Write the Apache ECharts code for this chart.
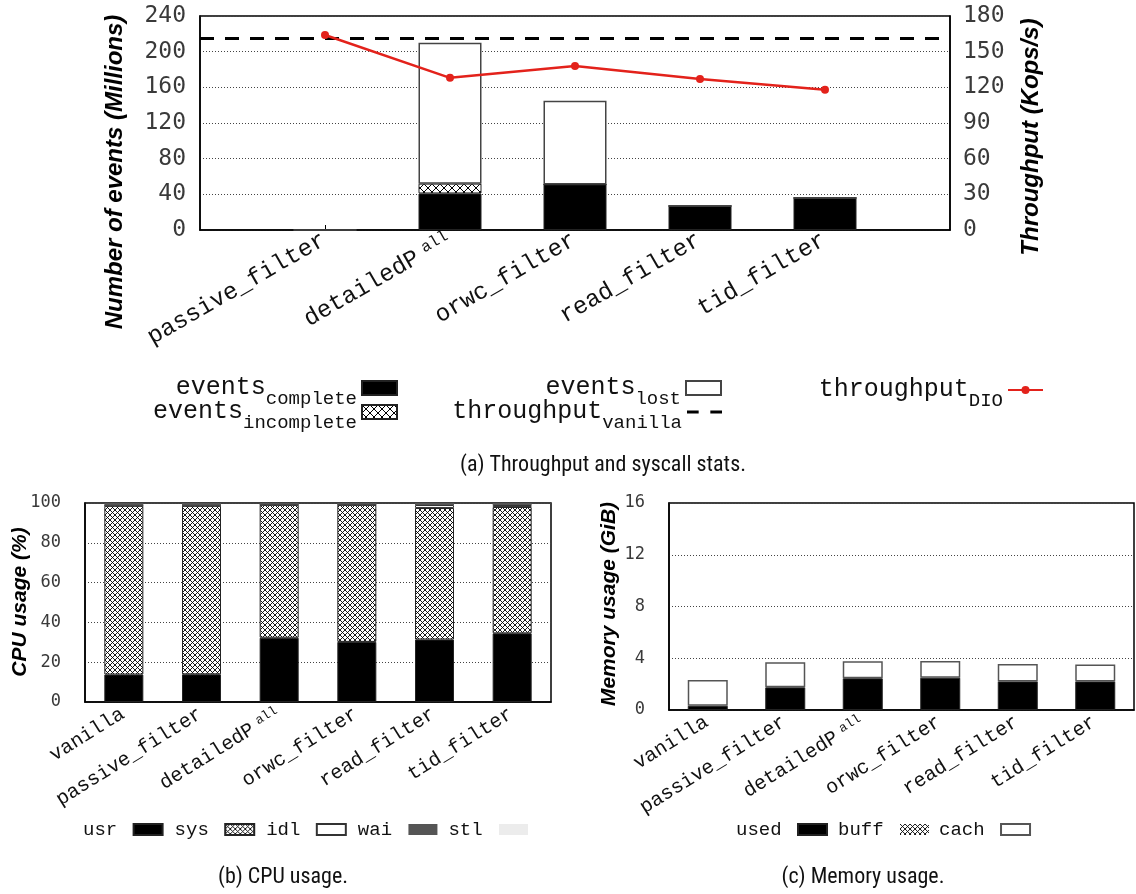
<!DOCTYPE html>
<html>
<head>
<meta charset="utf-8">
<script src="https://cdn.jsdelivr.net/npm/echarts@6/dist/echarts.min.js"></script>
<style>
  html, body { margin: 0; padding: 0; background: #fff; }
  #chart { width: 1136px; height: 894px; }
</style>
</head>
<body>
<div id="chart"></div>
<script>
// (a) Throughput and syscall stats
const tracerCategories = ['passive_filter', 'detailedP_all', 'orwc_filter', 'read_filter', 'tid_filter'];
const eventsComplete   = [0, 41, 51, 27, 36];     // millions
const eventsIncomplete = [0, 11, 0, 0, 0];        // millions
const eventsLost       = [0, 158, 94, 0, 0];      // millions
const throughputDIO    = [164, 128, 138, 127, 118]; // Kops/s
const throughputVanilla = 161.5;                  // Kops/s
const eventTicks = [0, 40, 80, 120, 160, 200, 240];
const throughputTicks = [0, 30, 60, 90, 120, 150, 180];

// (b) CPU usage and (c) memory usage
const setupCategories = ['vanilla', 'passive_filter', 'detailedP_all', 'orwc_filter', 'read_filter', 'tid_filter'];
const cpuUsr = [13.8, 13.9, 32.3, 30.2, 31.4, 34.5];
const cpuSys = [84.8, 84.7, 66.8, 68.9, 66.1, 63.5];
const cpuIdl = [0.1, 0.1, 0.1, 0.1, 1.5, 1.0];
const cpuWai = [1.3, 1.3, 0.8, 0.8, 1.0, 1.0];
const cpuStl = [0, 0, 0, 0, 0, 0];
const cpuTicks = [0, 20, 40, 60, 80, 100];
const memUsed = [0.33, 1.75, 2.45, 2.5, 2.21, 2.21];
const memBuff = [0, 0, 0, 0, 0, 0];
const memCach = [1.98, 1.95, 1.31, 1.28, 1.34, 1.31];
const memTicks = [0, 4, 8, 12, 16];

const MONO = '"Liberation Mono", "DejaVu Sans Mono", monospace';
const NUM = '"DejaVu Sans Mono", monospace';
const SANS = '"Liberation Sans", Arial, sans-serif';
const CAPTION = '"Liberation Sans Narrow", "Roboto Condensed", Roboto, sans-serif';

// Cross-hatch fill used for the "incomplete"/"sys"/"buff" segments
function hatch(step, lw) {
  const c = document.createElement('canvas');
  c.width = step; c.height = step;
  const g = c.getContext('2d');
  g.fillStyle = '#fff';
  g.fillRect(0, 0, step, step);
  g.strokeStyle = '#000';
  g.lineWidth = lw;
  g.beginPath();
  g.moveTo(-1, -1); g.lineTo(step + 1, step + 1);
  g.moveTo(step + 1, -1); g.lineTo(-1, step + 1);
  g.stroke();
  return { image: c, repeat: 'repeat' };
}

// Category label, with the "all" of detailedP_all set small and raised
function catLabel(v) {
  if (v === 'detailedP_all') return '{m|detailedP}{s|all}';
  return '{m|' + v + '}';
}
function catRich(size) {
  return {
    m: { fontFamily: MONO, fontSize: size, color: '#111', lineHeight: size + 4, verticalAlign: 'top' },
    s: { fontFamily: MONO, fontSize: Math.round(size * 0.65), color: '#111', lineHeight: Math.round(size * 0.6), verticalAlign: 'top', padding: [0, 0, 0, Math.round(size * 0.3)] }
  };
}

// Legend text "base_sub" drawn with a subscript
function subLabel(name) {
  const i = name.indexOf('_');
  if (i < 0) return '{m|' + name + '}';
  return '{m|' + name.slice(0, i) + '}{s|' + name.slice(i + 1) + '}';
}
const legendRich = {
  m: { fontFamily: MONO, fontSize: 25, color: '#111', lineHeight: 26, verticalAlign: 'top' },
  s: { fontFamily: MONO, fontSize: 19, color: '#111', lineHeight: 18, verticalAlign: 'top', padding: [14, 0, 0, 0] }
};

const padded = arr => [null, ...arr, null];
const topAxisData = ['', ...tracerCategories, ''];

const hatchBig = hatch(8, 1);
const hatchSmall = hatch(5, 0.9);

const gridLine = { show: true, lineStyle: { color: '#444', type: [1, 2], width: 1 } };
const frame = { show: true, borderColor: '#000', borderWidth: 1.5, backgroundColor: 'transparent' };
const axisBlack = { show: true, lineStyle: { color: '#000', width: 1.5 } };
const VANILLA_DASH = [14, 11];

function topLegend(item, right, top, extra) {
  return Object.assign({
    data: [item],
    right: right, top: top,
    orient: 'horizontal',
    align: 'right',
    padding: 0,
    selectedMode: false,
    itemWidth: 35, itemHeight: 14,
    formatter: subLabel,
    textStyle: { fontFamily: MONO, fontSize: 25, color: '#111', rich: legendRich }
  }, extra || {});
}

function bottomLegend(names, left, gap) {
  return {
    data: names.map(n => ({ name: n, icon: 'rect' })),
    left: left, top: 820, align: 'right', padding: 0, selectedMode: false,
    itemWidth: 29, itemHeight: 11, itemGap: gap,
    formatter: n => n + ' ',
    textStyle: { fontFamily: MONO, fontSize: 19, color: '#111' }
  };
}

function caption(text, x, y) {
  return { type: 'text', x: x, y: y,
    style: { text: text, font: '22px ' + CAPTION, fill: '#111', textAlign: 'center', textVerticalAlign: 'middle', align: 'center', verticalAlign: 'middle' } };
}
function axisTitle(text, x, y, size) {
  return { type: 'text', x: x, y: y, rotation: Math.PI / 2,
    style: { text: text, font: 'italic bold ' + size + 'px ' + SANS, fill: '#000', textAlign: 'center', textVerticalAlign: 'middle', align: 'center', verticalAlign: 'middle' } };
}

const option = {
  animation: false,
  backgroundColor: '#fff',
  grid: [
    Object.assign({ left: 200, top: 16, width: 750, height: 214 }, frame),
    Object.assign({ left: 85, top: 503, width: 466, height: 199 }, frame),
    Object.assign({ left: 669, top: 503, width: 465, height: 207 }, frame)
  ],
  xAxis: [
    {
      type: 'category', gridIndex: 0, data: topAxisData, boundaryGap: false,
      axisLine: axisBlack,
      axisTick: { show: true, inside: true, length: 5, interval: (i, v) => v !== '', lineStyle: { color: '#000' } },
      axisLabel: { interval: 0, rotate: 30, margin: 10, formatter: catLabel, rich: catRich(24) },
      splitLine: { show: false }
    },
    {
      type: 'category', gridIndex: 1, data: setupCategories,
      axisLine: axisBlack, axisTick: { show: false },
      axisLabel: { interval: 0, rotate: 32, margin: 12, formatter: catLabel, rich: catRich(20) }
    },
    {
      type: 'category', gridIndex: 2, data: setupCategories,
      axisLine: axisBlack, axisTick: { show: false },
      axisLabel: { interval: 0, rotate: 32, margin: 12, formatter: catLabel, rich: catRich(20) }
    }
  ],
  yAxis: [
    {
      type: 'value', gridIndex: 0,
      min: eventTicks[0], max: eventTicks[eventTicks.length - 1], interval: eventTicks[1] - eventTicks[0],
      axisLine: axisBlack, axisTick: { show: false },
      axisLabel: { fontFamily: NUM, fontSize: 23, color: '#3a3a3a', margin: 14 },
      splitLine: gridLine
    },
    {
      type: 'value', gridIndex: 0, position: 'right',
      min: throughputTicks[0], max: throughputTicks[throughputTicks.length - 1], interval: throughputTicks[1] - throughputTicks[0],
      axisLine: axisBlack, axisTick: { show: false },
      axisLabel: { fontFamily: NUM, fontSize: 23, color: '#3a3a3a', margin: 13 },
      splitLine: { show: false }
    },
    {
      type: 'value', gridIndex: 1,
      min: cpuTicks[0], max: cpuTicks[cpuTicks.length - 1], interval: cpuTicks[1] - cpuTicks[0],
      axisLine: axisBlack, axisTick: { show: false },
      axisLabel: { fontFamily: NUM, fontSize: 17, color: '#3a3a3a', margin: 24 },
      splitLine: gridLine
    },
    {
      type: 'value', gridIndex: 2,
      min: memTicks[0], max: memTicks[memTicks.length - 1], interval: memTicks[1] - memTicks[0],
      axisLine: axisBlack, axisTick: { show: false },
      axisLabel: { fontFamily: NUM, fontSize: 17, color: '#3a3a3a', margin: 24 },
      splitLine: gridLine
    }
  ],
  legend: [
    topLegend({ name: 'events_complete', icon: 'rect' }, 1136 - 398, 375),
    topLegend({ name: 'events_incomplete', icon: 'rect' }, 1136 - 398, 399),
    topLegend({ name: 'events_lost', icon: 'rect' }, 1136 - 722, 375),
    topLegend({ name: 'throughput_vanilla', icon: 'path://M0 0H11V3H0Z M22 0H33V3H22Z',
      itemStyle: { borderWidth: 0, borderColor: 'transparent' } }, 1136 - 722, 399,
      { itemStyle: { borderWidth: 0, borderColor: 'transparent' }, lineStyle: { width: 0 } }),
    topLegend('throughput_DIO', 1136 - 1044, 377, { itemHeight: 10 }),
    bottomLegend(['usr', 'sys', 'idl', 'wai', 'stl'], 83, 11),
    bottomLegend(['used', 'buff', 'cach'], 736, 10)
  ],
  graphic: [
    axisTitle('Number of events (Millions)', 115, 172, 24),
    axisTitle('Throughput (Kops/s)', 1031, 137, 24),
    axisTitle('CPU usage (%)', 20, 602, 21),
    axisTitle('Memory usage (GiB)', 609, 604, 21),
    caption('(a) Throughput and syscall stats.', 603, 465),
    caption('(b) CPU usage.', 283, 877),
    caption('(c) Memory usage.', 863, 877)
  ],
  series: [
    // (a) stacked event counts
    { name: 'events_complete', type: 'bar', xAxisIndex: 0, yAxisIndex: 0, stack: 'events', barWidth: 63,
      data: padded(eventsComplete), itemStyle: { color: '#000', borderColor: '#222', borderWidth: 1 } },
    { name: 'events_incomplete', type: 'bar', xAxisIndex: 0, yAxisIndex: 0, stack: 'events', barWidth: 63,
      data: padded(eventsIncomplete), itemStyle: { color: hatchBig, borderColor: '#222', borderWidth: 1 } },
    { name: 'events_lost', type: 'bar', xAxisIndex: 0, yAxisIndex: 0, stack: 'events', barWidth: 63,
      data: padded(eventsLost), itemStyle: { color: '#fff', borderColor: '#444', borderWidth: 1.5 } },
    // (a) throughput
    { name: 'throughput_vanilla', type: 'line', xAxisIndex: 0, yAxisIndex: 1, data: [],
      symbol: 'none', itemStyle: { color: '#000' },
      lineStyle: { color: '#000', width: 3, type: VANILLA_DASH },
      markLine: { silent: true, symbol: 'none', label: { show: false },
        lineStyle: { color: '#000', width: 3, type: VANILLA_DASH },
        data: [{ yAxis: throughputVanilla }] } },
    { name: 'throughput_DIO', type: 'line', xAxisIndex: 0, yAxisIndex: 1, data: padded(throughputDIO),
      symbol: 'circle', symbolSize: 8, z: 5,
      itemStyle: { color: '#e3221b' }, lineStyle: { color: '#e3221b', width: 2.5 } },

    // (b) CPU usage
    { name: 'usr', type: 'bar', xAxisIndex: 1, yAxisIndex: 2, stack: 'cpu', barWidth: 39,
      data: cpuUsr, itemStyle: { color: '#000', borderColor: '#222', borderWidth: 1 } },
    { name: 'sys', type: 'bar', xAxisIndex: 1, yAxisIndex: 2, stack: 'cpu', barWidth: 39,
      data: cpuSys, itemStyle: { color: hatchSmall, borderColor: '#222', borderWidth: 1 } },
    { name: 'idl', type: 'bar', xAxisIndex: 1, yAxisIndex: 2, stack: 'cpu', barWidth: 39,
      data: cpuIdl, itemStyle: { color: '#fff', borderColor: '#333', borderWidth: 1 } },
    { name: 'wai', type: 'bar', xAxisIndex: 1, yAxisIndex: 2, stack: 'cpu', barWidth: 39,
      data: cpuWai, itemStyle: { color: '#555', borderColor: '#555', borderWidth: 0 } },
    { name: 'stl', type: 'bar', xAxisIndex: 1, yAxisIndex: 2, stack: 'cpu', barWidth: 39,
      data: cpuStl, itemStyle: { color: '#ececec', borderWidth: 0 } },

    // (c) memory usage
    { name: 'used', type: 'bar', xAxisIndex: 2, yAxisIndex: 3, stack: 'mem', barWidth: 40,
      data: memUsed, itemStyle: { color: '#000', borderColor: '#222', borderWidth: 1 } },
    { name: 'buff', type: 'bar', xAxisIndex: 2, yAxisIndex: 3, stack: 'mem', barWidth: 40,
      data: memBuff, itemStyle: { color: hatchSmall, borderColor: '#222', borderWidth: 0 } },
    { name: 'cach', type: 'bar', xAxisIndex: 2, yAxisIndex: 3, stack: 'mem', barWidth: 40,
      data: memCach, itemStyle: { color: '#fff', borderColor: '#555', borderWidth: 1.5 } }
  ]
};

const chart = echarts.init(document.getElementById('chart'), null, { renderer: 'canvas' });
chart.setOption(option);
</script>
</body>
</html>
